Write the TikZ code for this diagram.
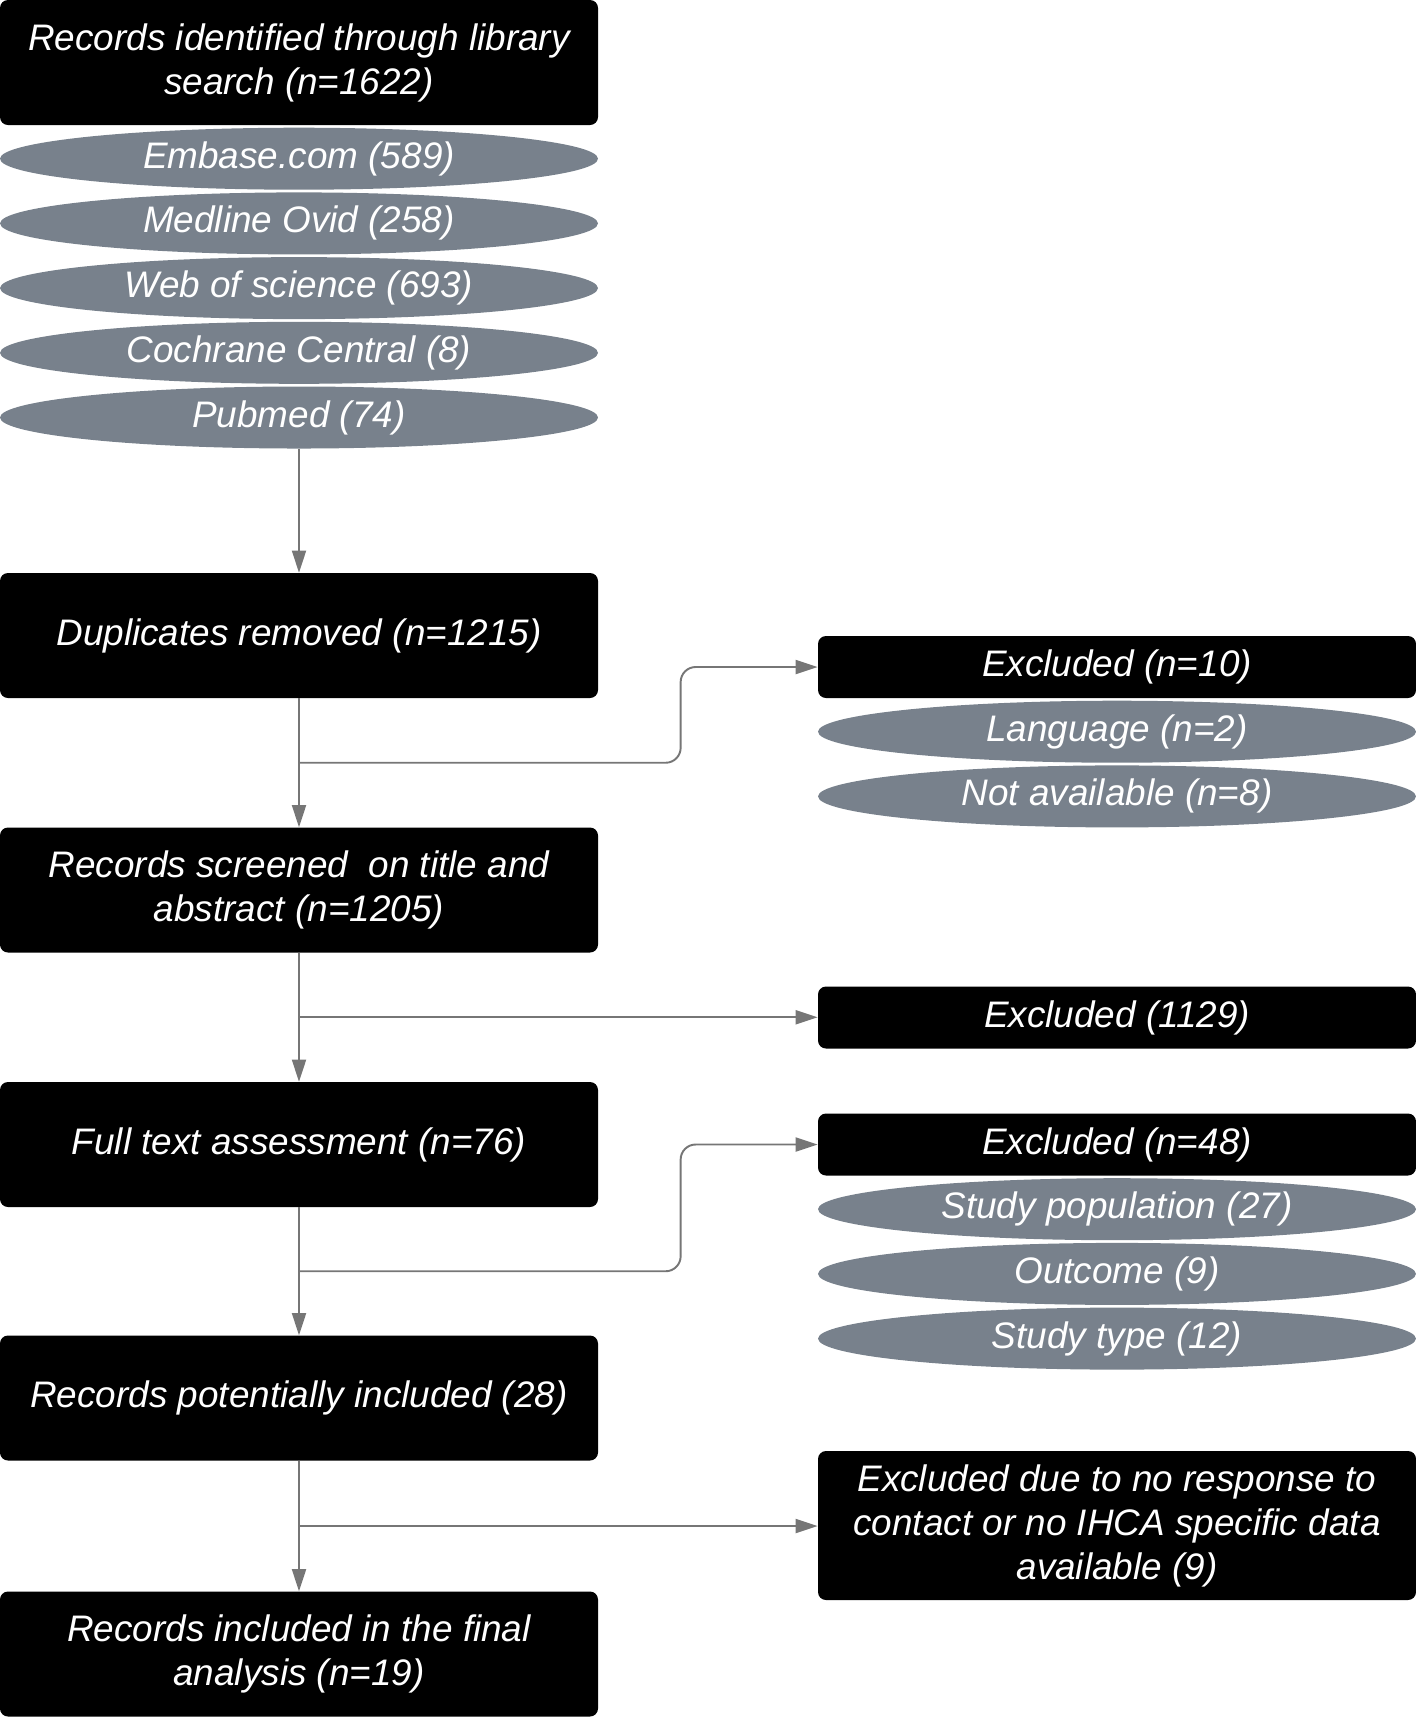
\documentclass[tikz,border=0pt]{standalone}
\usepackage{fontspec}
\setmainfont{Liberation Sans}
\usetikzlibrary{positioning,shapes.geometric,arrows.meta,calc}
\definecolor{srcgray}{RGB}{120,129,140}
\definecolor{linegray}{RGB}{118,118,118}

\begin{document}
\begin{tikzpicture}[node distance=0.04cm,
	main/.style={fill=black, text=white, rounded corners=0.16cm, minimum width=11.96cm,
		minimum height=2.5cm, align=center, inner sep=2pt, font=\fontsize{21}{25}\selectfont\itshape},
	excl/.style={main, minimum height=1.24cm},
	src/.style={ellipse, fill=srcgray, text=white, minimum width=11.96cm, minimum height=1.24cm,
		inner sep=0pt, font=\fontsize{21}{25}\selectfont\itshape},
	link/.style={draw=linegray, line width=1.1pt, -{Triangle[length=0.44cm,width=0.28cm]}}]
		\useasboundingbox (0,0) rectangle (28.32,-34.34);
		% left column
		\node[main] (lib) at (5.98,-1.25) {Records identified through library\\search (n=1622)};
		\node[src] (s1) [below=of lib] {Embase.com (589)};
		\node[src] (s2) [below=of s1] {Medline Ovid (258)};
		\node[src] (s3) [below=of s2] {Web of science (693)};
		\node[src] (s4) [below=of s3] {Cochrane Central (8)};
		\node[src] (s5) [below=of s4] {Pubmed (74)};
		\node[main] (dup) at (5.98,-12.71) {Duplicates removed (n=1215)};
		\node[main] (scr) at (5.98,-17.80) {Records screened\ \ on title and\\abstract (n=1205)};
		\node[main] (full) at (5.98,-22.89) {Full text assessment (n=76)};
		\node[main] (pot) at (5.98,-27.96) {Records potentially included (28)};
		\node[main] (fin) at (5.98,-33.08) {Records included in the final\\analysis (n=19)};
		% right column
		\node[excl] (ex1) at (22.34,-13.34) {Excluded (n=10)};
		\node[src] (lang) [below=of ex1] {Language (n=2)};
		\node[src] (nav) [below=of lang] {Not available (n=8)};
		\node[excl] (ex2) at (22.34,-20.35) {Excluded (1129)};
		\node[excl] (ex3) at (22.34,-22.89) {Excluded (n=48)};
		\node[src] (pop) [below=of ex3] {Study population (27)};
		\node[src] (outc) [below=of pop] {Outcome (9)};
		\node[src] (styp) [below=of outc] {Study type (12)};
		\node[main, minimum height=2.98cm] (ex4) at (22.34,-30.51) {Excluded due to no response to\\contact or no IHCA specific data\\available (9)};
		% branch points
		\coordinate (b1) at ($(dup.south)!0.5!(scr.north)$);
		\coordinate (b2) at ($(scr.south)!0.5!(full.north)$);
		\coordinate (b3) at ($(full.south)!0.5!(pot.north)$);
		\coordinate (b4) at ($(pot.south)!0.5!(fin.north)$);
		\draw[link] (s5) -- (dup);
		\draw[link] (dup) -- (scr);
		\draw[link] (scr) -- (full);
		\draw[link] (full) -- (pot);
		\draw[link] (pot) -- (fin);
		\draw[link, rounded corners=0.3cm] (b1) -| ([xshift=-2.74cm]ex1.west) -- (ex1.west);
		\draw[link] (b2) -- (b2 -| ex2.west);
		\draw[link, rounded corners=0.3cm] (b3) -| ([xshift=-2.74cm]ex3.west) -- (ex3.west);
		\draw[link] (b4) -- (b4 -| ex4.west);
	\end{tikzpicture}
\end{document}
